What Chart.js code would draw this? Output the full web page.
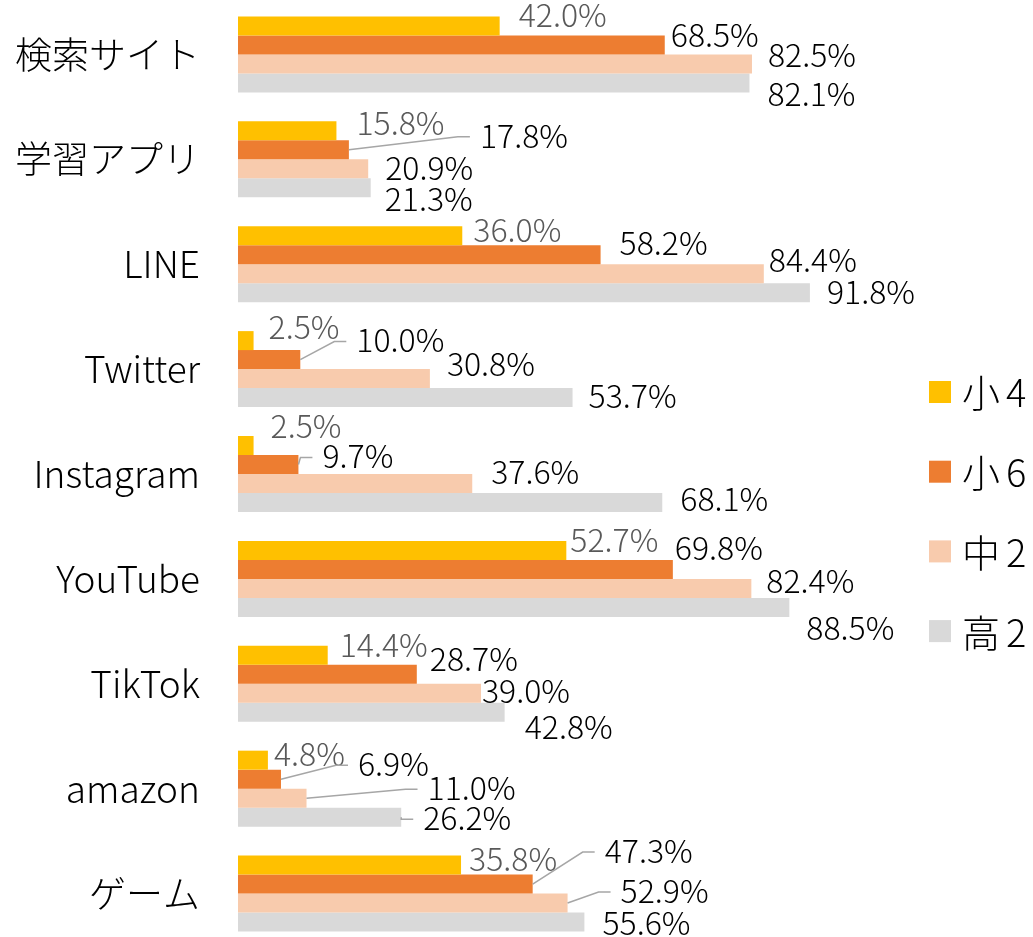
<!DOCTYPE html>
<html lang="ja">
<head>
<meta charset="utf-8">
<script src="https://cdn.jsdelivr.net/npm/chart.js@4/dist/chart.umd.min.js"></script>
<style>
  html, body { margin: 0; padding: 0; background: #fff; overflow: hidden; }
  #chart { position: absolute; left: 0; top: 0; }
</style>
</head>
<body>
<canvas id="chart" width="1033" height="946"></canvas>
<script>
// データ（％）
const categories = ['検索サイト', '学習アプリ', 'LINE', 'Twitter', 'Instagram', 'YouTube', 'TikTok', 'amazon', 'ゲーム'];
const seriesNames = ['小4', '小6', '中2', '高2'];
const grade4 = [42.0, 15.8, 36.0, 2.5, 2.5, 52.7, 14.4, 4.8, 35.8];
const grade6 = [68.5, 17.8, 58.2, 10.0, 9.7, 69.8, 28.7, 6.9, 47.3];
const middle2 = [82.5, 20.9, 84.4, 30.8, 37.6, 82.4, 39.0, 11.0, 52.9];
const high2 = [82.1, 21.3, 91.8, 53.7, 68.1, 88.5, 42.8, 26.2, 55.6];

const COLORS = ['#FFC000', '#ED7D31', '#F8CBAD', '#D9D9D9'];
const FONT = '"Noto Sans CJK JP", "Noto Sans", sans-serif';

// ラベル位置の手動調整 [dx, dy, 引き出し線]（バー先端・バー中心からのずれ）
const labelNudge = [
  [[19, -10], [6, -9], [16, -8], [18, 12]],
  [[20, -7], [131, -13, 1], [17, 0], [14, 12]],
  [[11, -5], [19, -11], [5, -13], [17, 0]],
  [[15, -12], [56, -18, 1], [17, -13], [16, 0]],
  [[17, -18], [24, -7, 1], [19, -10], [18, -2]],
  [[4, -9], [2, -20], [15, -6], [17, 22]],
  [[12, -9], [13, -14], [1, -1], [20, 16]],
  [[6, -5], [77, -14, 1], [121, -9, 1], [22, 2, 1]],
  [[8, -5], [72, -32, 1], [53, -11, 1], [18, 2]]
];

const valueLabels = {
  id: 'valueLabels',
  afterDatasetsDraw(chart) {
    const ctx = chart.ctx;
    const size = 32;
    ctx.save();
    ctx.font = '300 ' + size + 'px ' + FONT;
    ctx.textAlign = 'left';
    ctx.textBaseline = 'alphabetic';
    chart.data.datasets.forEach((ds, si) => {
      const meta = chart.getDatasetMeta(si);
      meta.data.forEach((bar, ci) => {
        const [dx, dy, leader] = labelNudge[ci][si];
        const lx = bar.x + dx;
        const cy = bar.y + dy;
        if (leader) {
          const endX = lx - 10;
          const elbowX = Math.max(bar.x, lx - 22);
          ctx.strokeStyle = '#A6A6A6';
          ctx.lineWidth = 1.5;
          ctx.beginPath();
          ctx.moveTo(bar.x, bar.y);
          ctx.lineTo(elbowX, cy);
          ctx.lineTo(endX, cy);
          ctx.stroke();
        }
        ctx.fillStyle = si === 0 ? '#595959' : '#000000';
        ctx.fillText(ds.data[ci].toFixed(1) + '%', lx, cy + size * 0.34);
      });
    });
    ctx.restore();
  }
};

const sideLegend = {
  id: 'sideLegend',
  afterDraw(chart) {
    const ctx = chart.ctx;
    ctx.save();
    ctx.font = '300 38px ' + FONT;
    ctx.textBaseline = 'middle';
    chart.data.datasets.forEach((ds, i) => {
      const top = 381 + i * 79.7;
      ctx.fillStyle = ds.backgroundColor;
      ctx.fillRect(929, top, 22, 22);
      ctx.fillStyle = '#000000';
      ctx.fillText(ds.label.charAt(0), 962, top + 12);
      ctx.fillText(ds.label.slice(1), 1006, top + 12);
    });
    ctx.restore();
  }
};

function draw() {
  new Chart(document.getElementById('chart'), {
    type: 'bar',
    data: {
      labels: categories,
      datasets: [
        { label: seriesNames[0], data: grade4, backgroundColor: COLORS[0] },
        { label: seriesNames[1], data: grade6, backgroundColor: COLORS[1] },
        { label: seriesNames[2], data: middle2, backgroundColor: COLORS[2] },
        { label: seriesNames[3], data: high2, backgroundColor: COLORS[3] }
      ]
    },
    options: {
      indexAxis: 'y',
      responsive: false,
      animation: false,
      layout: { padding: { top: 2, right: 172, bottom: 0, left: 0 } },
      datasets: { bar: { barPercentage: 1, categoryPercentage: 0.7246, borderWidth: 0 } },
      plugins: { legend: { display: false }, tooltip: { enabled: false } },
      scales: {
        x: { display: false, min: 0, max: 100 },
        y: {
          grid: { display: false, drawTicks: false },
          border: { display: false },
          ticks: { padding: 38, color: '#000000', font: { family: FONT, size: 37, weight: 300 } },
          afterFit: (scale) => {
            scale.width = 238;
            scale.paddingTop = 0;
            scale.paddingBottom = 0;
          }
        }
      }
    },
    plugins: [valueLabels, sideLegend]
  });
}

document.fonts.load('300 32px "Noto Sans CJK JP"').then(draw, draw);
</script>
</body>
</html>
